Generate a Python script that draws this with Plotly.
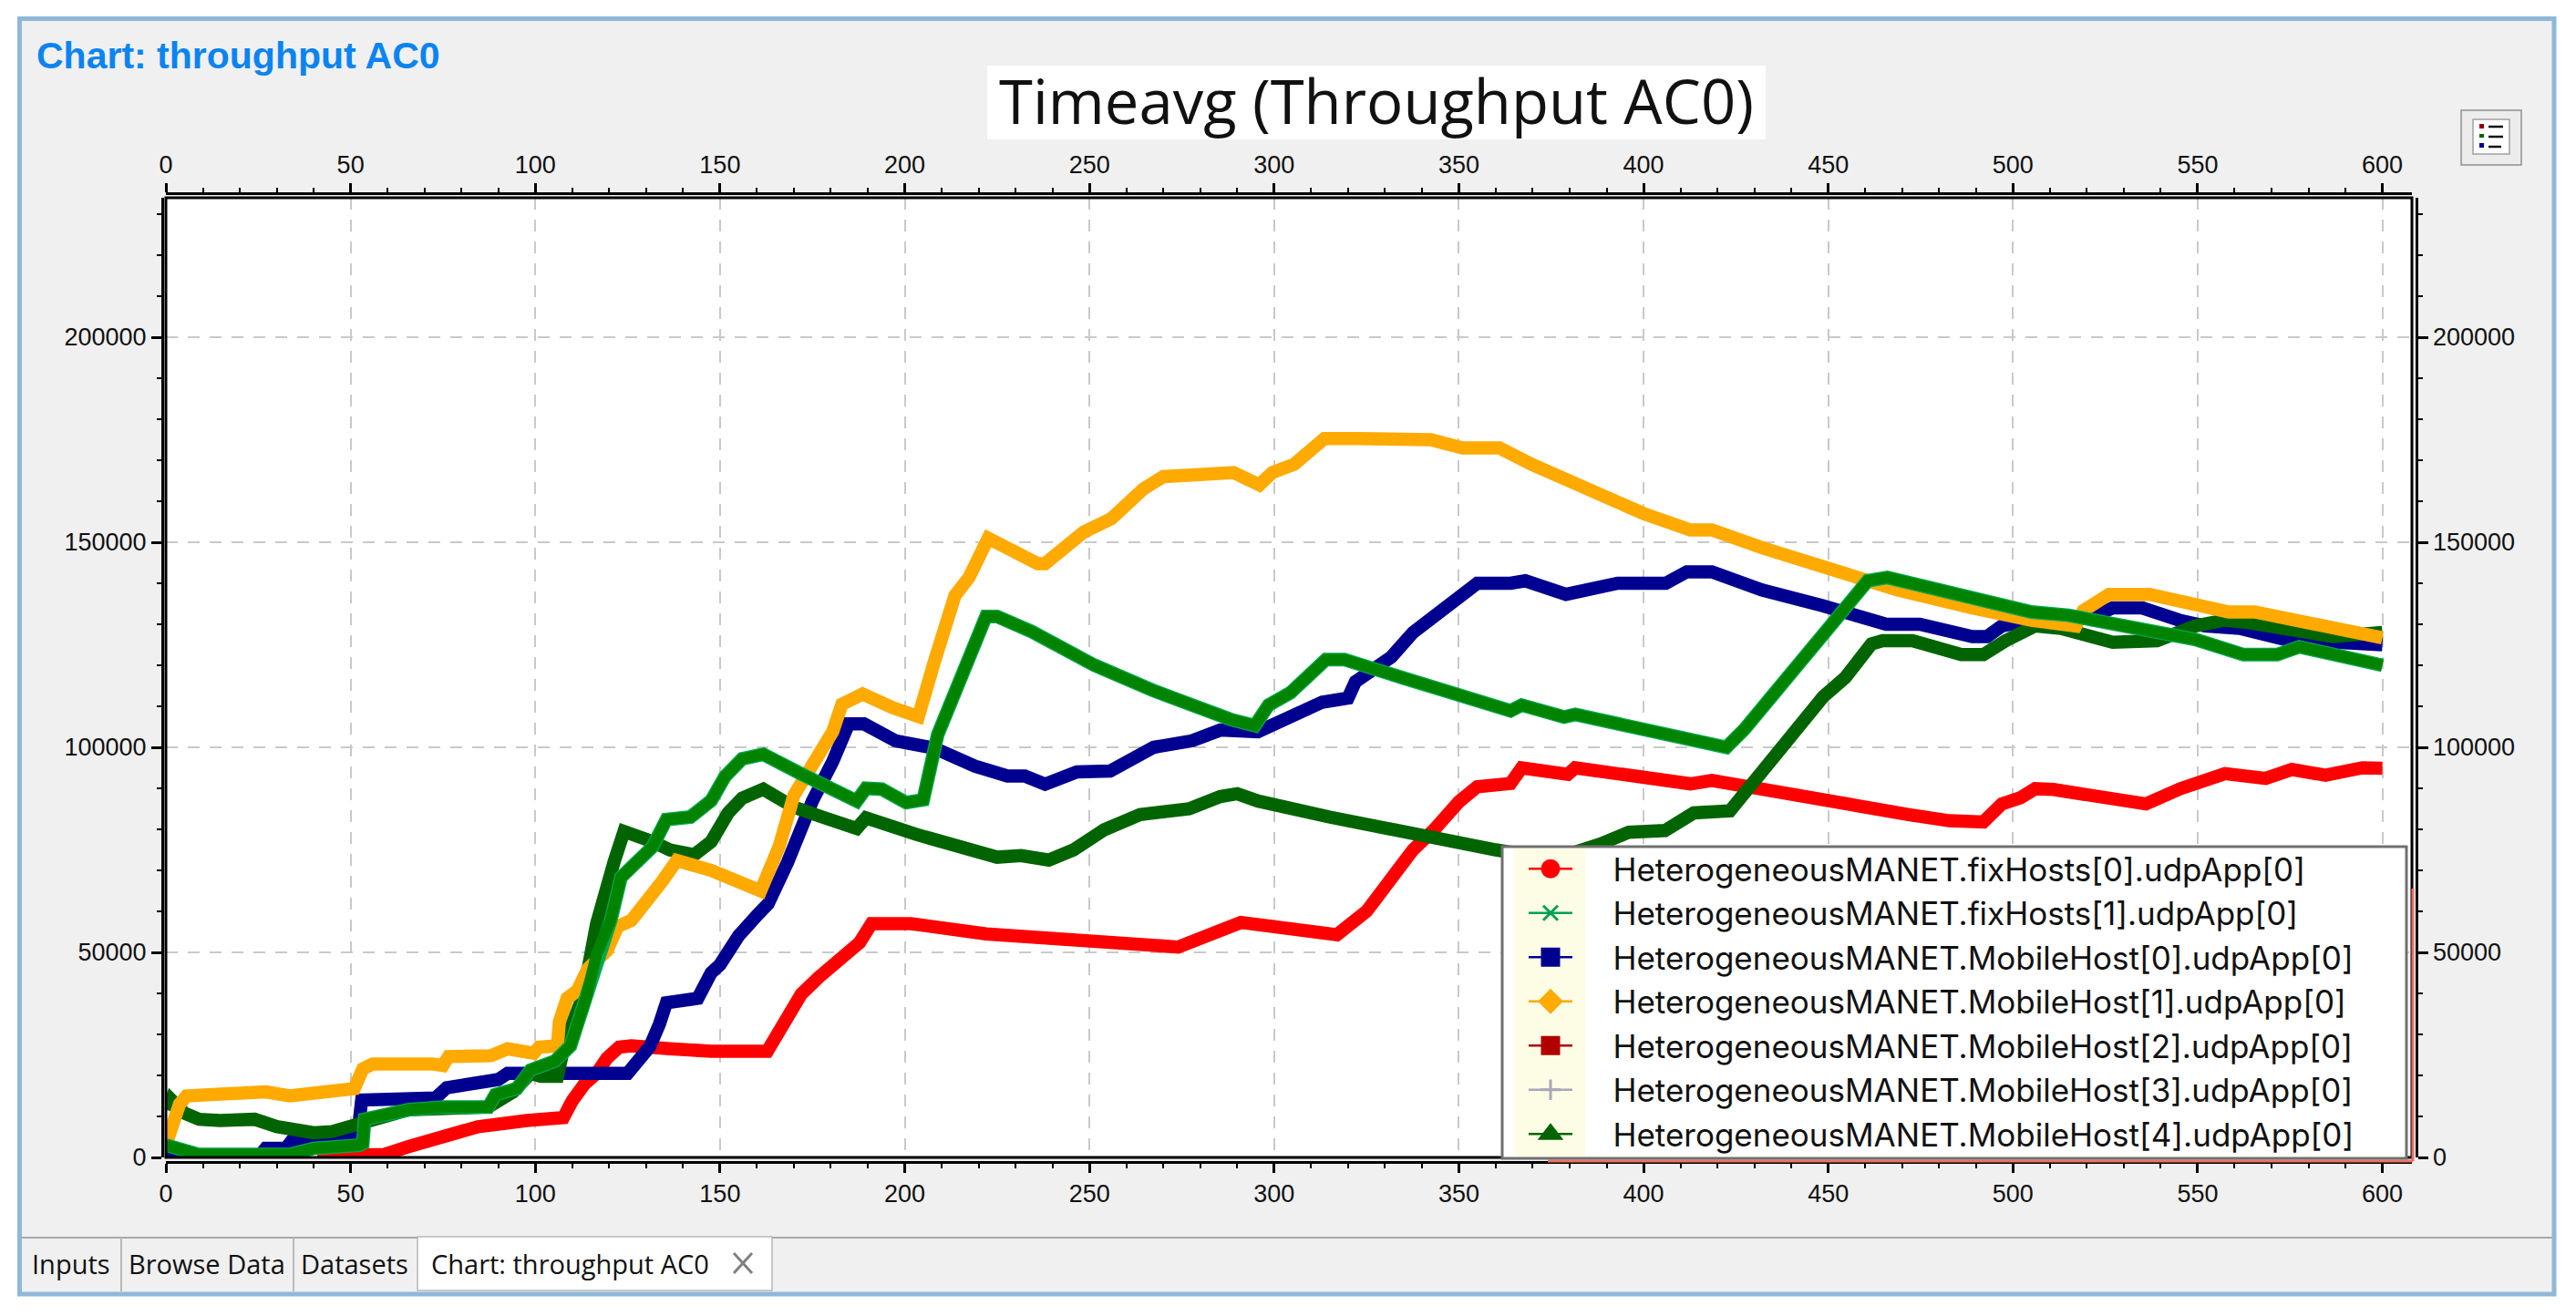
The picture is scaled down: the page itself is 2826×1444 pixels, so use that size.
import plotly.graph_objects as go

W, H = 2826, 1444

names = ["HeterogeneousMANET.fixHosts[0].udpApp[0]", "HeterogeneousMANET.fixHosts[1].udpApp[0]",
         "HeterogeneousMANET.MobileHost[0].udpApp[0]", "HeterogeneousMANET.MobileHost[1].udpApp[0]",
         "HeterogeneousMANET.MobileHost[2].udpApp[0]", "HeterogeneousMANET.MobileHost[3].udpApp[0]",
         "HeterogeneousMANET.MobileHost[4].udpApp[0]"]
legend_colors = ["#ff0000", "#00a050", "#000090", "#ffaa00", "#b00000", "#a8a8b8", "#006400"]
legend_symbols = ["circle", "x-thin", "square", "diamond", "square", "cross-thin", "triangle-up"]

red_x = [41,46,59,65.6,75,84.5,97.7,107.6,110,113.3,116.6,119.4,122.7,126,136.4,147.6,162.8,167.5,172,176.8,181.5,187.8,191,201.7,222,257,274,291,317,325,333,337.6,343.4,350,355,364,367,379.5,381.5,400,412.7,418.5,432,448.6,471.8,482.8,492,497,502,506,511,536,545.3,557.4,568.4,575.5,584.6,594.6,600]
red_y = [400,700,700,2600,4800,7500,9000,9700,13800,17900,20500,24200,26900,27200,26500,25900,25900,33000,39800,44000,48000,52400,57000,57000,54500,52500,51300,57300,54300,60000,69000,75000,80000,86700,90400,91200,95000,93400,95000,92600,91100,91900,89700,86800,83600,82100,81800,86200,87700,89900,89700,86200,89900,93600,92400,94600,93200,95000,94900]

fix1_x = [0,5,9,33.5,40,52.4,53.3,53.8,65.6,75,87.3,89.2,95,98.7,105.3,109.5,113.8,116.6,120.4,123.2,128,131.7,135.5,142,147.6,151.3,156,161.7,172,187,189.5,193.8,200.4,205,208.9,213.6,217.4,222,225,234.4,251.4,267.4,288.2,294.8,298.5,304.4,314,319,334.6,350,364,367,378.5,381.5,403,422.4,427.3,434,440,448.6,453.6,460.7,466,488.9,505,515,527,537,549.3,562.4,571.5,577.5,600]
fix1_y = [3000,1500,700,700,2200,3000,3400,9300,11600,12300,12300,15300,16800,21300,23500,27200,39200,49600,57800,68300,72000,75700,82400,83000,87000,92800,97200,98300,93500,86900,90000,89800,86500,87200,103000,113400,122300,131900,131900,128200,120000,113800,106800,105300,110300,113300,121400,121400,117000,112500,108900,110300,107400,108000,104000,100000,104400,111800,118500,127700,133300,140600,141400,136200,133000,132200,130000,128000,126300,122600,122600,124500,120000]

host0_x = [0,25,27,32.5,34,45,52,53,73,76,90,92.5,125,131,133.6,135.5,144,147.6,150,155,160,163,168.3,175,180.5,184.8,189,197.5,208,219,227.8,232.5,238,242,246.6,255.6,267.4,277.8,285.4,295.6,301.5,313,320,322,331.7,337.6,343.4,349,355,364,368,379,393,406,411.7,418.5,432,448.6,458.7,465.7,474.8,489,493,497,503,513,521,527,535,545,552,561.4,573.5,600]
host0_y = [0,0,2200,2200,4000,4500,6000,14000,14500,17000,19000,20500,20500,27000,32500,37700,38800,45000,47000,54000,59000,61800,72000,86900,96500,105700,105700,101600,99800,95400,93000,93000,91000,92800,94000,94200,100000,101600,104200,103800,106000,111000,112000,116000,122000,128000,132000,136000,140000,140000,140600,137300,140000,140000,142800,142800,138400,134500,131500,130000,130000,127000,127000,129600,130700,131000,131500,134000,134000,131000,129600,129000,126300,125000]

host1_x = [0,2.3,3.7,5.6,15.5,27,33.5,47,51,53.3,56,72,75,76.5,88,92.5,99.6,101,106,106.5,108.6,111.4,114.2,119.4,122.3,126,131,134.5,138.3,147.6,161,166,170,176,180.5,183,188.6,196.6,203.7,208,213.6,217.4,222.6,236,238,248.5,256,264.6,270,279.7,289,296,299.5,305.4,313.6,323,342.4,351,361,369.7,383.4,400,412.7,418.5,432,448.6,459.7,468.7,488.9,505,517,519,526,537,558.4,565.4,600]
host1_y = [3000,8600,13000,15000,15300,16000,15000,16000,16800,21600,22800,22800,22400,24600,24800,26500,25400,26900,27200,33000,38800,40700,46000,50400,56300,57800,63000,67500,72400,70000,65000,75800,88300,96500,103800,110500,113000,109700,107500,120800,137000,141400,151000,144800,144800,152500,155800,163000,166000,166500,167000,164000,167000,169000,175300,175300,175000,173000,173000,169000,163500,157000,153000,153000,148700,144300,141000,138400,134000,131000,129600,133300,137300,137300,133000,133000,126700]

host4_x = [0.5,1.5,5,9,14.6,24,30,40,45,52.4,65.6,87.3,94,98.7,101.5,106,108,112.8,116.6,121.3,124,131.7,136.4,143,147.6,152.2,156,161.7,170,177.7,187,189.5,203,225,231.5,239,245.7,254,263.7,277,285.4,290,295.6,315,339.5,360,370,380,388.3,396,405.8,413.6,423.4,429.3,436,440,448.6,454.6,461.7,464.7,472.8,486,492,498,506,513,527,539,549.3,557.4,564.4,586.6,600]
host4_y = [11500,14000,10800,9300,9000,9300,7500,6000,6300,8200,11600,12300,16000,20500,19800,19800,28000,39000,57000,72000,79500,77000,75000,73800,77000,84000,87600,89800,85400,83000,80200,82800,78800,73200,73600,72500,75000,79900,83600,85000,88000,88700,86900,83000,78200,75000,73500,74000,76400,79300,79700,84000,84500,91000,98500,103700,112300,117000,125200,126000,126000,122600,122600,126000,129600,129000,125600,126000,129600,131000,130300,127000,128000]

x_ticks = [0,50,100,150,200,250,300,350,400,450,500,550,600]
y_ticks = [0,50000,100000,150000,200000]

def px(v): return v / W
def py(v): return 1 - v / H

LABEL_FONT = dict(family="Liberation Sans", size=27, color="#101010")
LW = 14.5
fig = go.Figure()

# drawing order as seen at the crossings
fig.add_trace(go.Scatter(x=red_x, y=red_y, mode="lines", line=dict(color="#ff0000", width=LW), showlegend=False))
fig.add_trace(go.Scatter(x=host0_x, y=host0_y, mode="lines", line=dict(color="#000090", width=LW), showlegend=False))
fig.add_trace(go.Scatter(x=host4_x, y=host4_y, mode="lines", line=dict(color="#006400", width=LW), showlegend=False))
fig.add_trace(go.Scatter(x=host1_x, y=host1_y, mode="lines", line=dict(color="#ffaa00", width=LW), showlegend=False))
fig.add_trace(go.Scatter(x=fix1_x, y=fix1_y, mode="lines", line=dict(color="#00a850", width=LW + 0.5), showlegend=False))
fig.add_trace(go.Scatter(x=fix1_x, y=fix1_y, mode="lines", line=dict(color="#008400", width=LW - 2), showlegend=False))

# legend entries: thin line with marker
for n, c, s in zip(names, legend_colors, legend_symbols):
    thin = s.endswith("thin")
    fig.add_trace(go.Scatter(x=[None], y=[None], mode="lines+markers", name="\u00a0\u00a0\u00a0\u00a0" + n,
                             line=dict(color=c, width=2.5),
                             marker=dict(symbol=s, size=16, color=c, line=dict(color=c, width=3 if thin else 5))))

dom_x = [px(182), px(2646)]
dom_y = [py(1270), py(217)]
common_x = dict(range=[0, 608], domain=dom_x, tickmode="array", tickvals=x_ticks, ticktext=[str(v) for v in x_ticks],
                ticks="outside", ticklen=10, tickwidth=2.5, tickcolor="black", showline=True, linecolor="black",
                linewidth=3, tickfont=LABEL_FONT, zeroline=False, anchor="free",
                minor=dict(ticks="outside", ticklen=5, tickwidth=2, tickcolor="black", dtick=10, tick0=0, showgrid=False))
common_y = dict(range=[0, 234000], domain=dom_y, tickmode="array", tickvals=y_ticks, ticktext=[str(v) for v in y_ticks],
                ticks="outside", ticklen=11, tickwidth=2.5, tickcolor="black", showline=True, linecolor="black",
                linewidth=3, tickfont=LABEL_FONT, zeroline=False, anchor="free",
                minor=dict(ticks="outside", ticklen=5, tickwidth=2, tickcolor="black", dtick=10000, tick0=0, showgrid=False))

shapes = []
def rect(x0, y0, x1, y1, fill=None, line=None, lw=0, layer="below"):
    shapes.append(dict(type="rect", xref="paper", yref="paper", x0=px(x0), x1=px(x1), y0=py(y0), y1=py(y1),
                       fillcolor=fill or "rgba(0,0,0,0)", line=dict(color=line or "rgba(0,0,0,0)", width=lw), layer=layer))
def seg(x0, y0, x1, y1, color, lw, layer="below"):
    shapes.append(dict(type="line", xref="paper", yref="paper", x0=px(x0), x1=px(x1), y0=py(y0), y1=py(y1),
                       line=dict(color=color, width=lw), layer=layer))

# window panel
rect(21.5, 20.5, 2802, 1420, fill="#f0f0f0", line="#8fb8d8", lw=5)
# plot background
rect(182, 217, 2646, 1270, fill="#ffffff")
# tabs
seg(24, 1358, 2800, 1358, "#a8a8a8", 2)
seg(133, 1358, 133, 1417, "#b8b8b8", 2)
seg(322, 1358, 322, 1417, "#b8b8b8", 2)
rect(458, 1357, 847, 1416, fill="#ffffff", line="#b8b8b8", lw=1.5)
seg(805, 1375, 825, 1397, "#808080", 3)
seg(825, 1375, 805, 1397, "#808080", 3)
# title plate
rect(1083, 72, 1937, 153, fill="#ffffff")
# legend button
rect(2700, 121, 2766, 181, fill="#ececec", line="#909090", lw=1.5)
rect(2713, 131, 2753, 169, fill="#ffffff", line="#a0a0a0", lw=1.5)
rect(2720, 136, 2725, 141, fill="#8b0000")
rect(2720, 147, 2725, 151, fill="#006400")
rect(2720, 157, 2725, 162, fill="#000090")
seg(2730, 139, 2746, 139, "#101010", 2.5)
seg(2730, 150, 2746, 150, "#101010", 2.5)
seg(2730, 161, 2744, 161, "#101010", 2.5)
# plot frame, above traces
rect(182, 217, 2646, 1270, line="#000000", lw=3, layer="above")
seg(1698, 1274, 2647, 1274, "#f07060", 3, layer="above")
seg(2647, 975, 2647, 1274, "#f07060", 3, layer="above")
# legend box
rect(1648, 929, 2640, 1271, fill="#ffffff", line="#707070", lw=3, layer="above")
rect(1661, 931, 1739, 1269, fill="#fdfde6", layer="above")

annos = [
    dict(text="<b>Chart: throughput AC0</b>", x=px(39), y=py(61), xanchor="left", yanchor="middle",
         font=dict(family="Liberation Sans", size=41, color="#0a84f0")),
    dict(text="Timeavg (Throughput AC0)", x=px(1510), y=py(110), xanchor="center", yanchor="middle",
         font=dict(family="Open Sans", size=67, color="#111111")),
]
for t, cx in [("Inputs", 78), ("Browse Data", 227), ("Datasets", 389), ("Chart: throughput AC0", 625)]:
    annos.append(dict(text=t, x=px(cx), y=py(1386), xanchor="center", yanchor="middle",
                      font=dict(family="Open Sans", size=29, color="#111111")))
for a in annos:
    a.update(xref="paper", yref="paper", showarrow=False, borderpad=0)

fig.update_layout(
    width=W, height=H, autosize=False,
    margin=dict(l=0, r=0, t=0, b=0, pad=0, autoexpand=False),
    paper_bgcolor="#ffffff", plot_bgcolor="#ffffff",
    xaxis=dict(common_x, position=py(1275), side="bottom", showgrid=True, gridcolor="#c9c9c9", griddash="13px,11px", gridwidth=2),
    xaxis2=dict(common_x, position=py(212), side="top", overlaying="x", showgrid=False),
    yaxis=dict(common_y, position=px(178), side="left", showgrid=True, gridcolor="#c9c9c9", griddash="13px,11px", gridwidth=2),
    yaxis2=dict(common_y, position=px(2650.5), side="right", overlaying="y", showgrid=False),
    legend=dict(x=px(1672), y=py(924), xanchor="left", yanchor="top", bgcolor="rgba(0,0,0,0)", borderwidth=0,
                itemwidth=48, font=dict(family="Inter", size=35, color="#111111"), traceorder="normal",
                itemclick=False, itemdoubleclick=False),
    shapes=shapes, annotations=annos,
)
# empty trace so the mirrored axes are drawn
fig.add_trace(go.Scatter(x=[None], y=[None], xaxis="x2", yaxis="y2", showlegend=False, mode="lines"))

fig.write_html("out.html", post_script="document.body.style.margin='0';document.body.style.overflow='hidden';",
               config=dict(displayModeBar=False))
